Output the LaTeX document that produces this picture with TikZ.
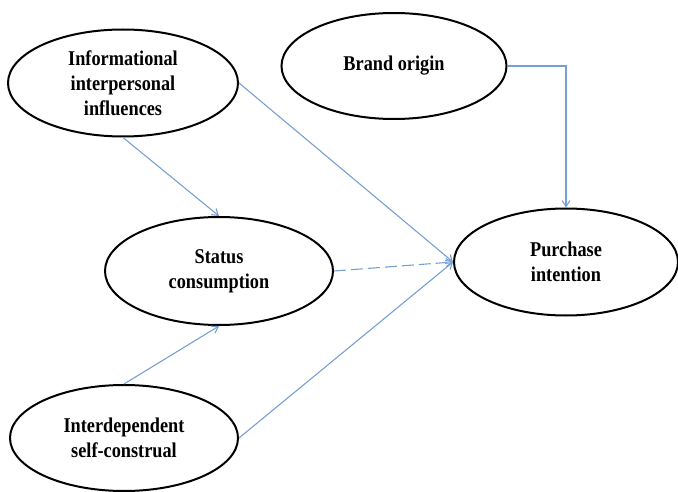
\documentclass[tikz,border=0pt]{standalone}
\usepackage{fontspec}
\setmainfont[FakeStretch=0.87]{Liberation Serif}
\usetikzlibrary{shapes.geometric,arrows.meta}
\definecolor{arrowblue}{RGB}{118,160,210}
\begin{document}
\begin{tikzpicture}[x=1pt,y=-1pt,
  construct/.style={ellipse, draw=black, line width=2pt, inner sep=0pt, align=center,
    font=\fontsize{21}{25}\selectfont\bfseries},
  link/.style={draw=arrowblue, line width=1.1pt, -{Straight Barb[length=6pt,width=8pt]}}]
\useasboundingbox (0,0) rectangle (678,492);
\node[construct, minimum width=230pt, minimum height=107pt] (info) at (123,83)
  {Informational\\interpersonal\\influences};
\node[construct, minimum width=225pt, minimum height=106pt] (brand) at (394,66)
  {Brand origin};
\node[construct, minimum width=224pt, minimum height=107pt] (purch) at (566,262)
  {Purchase\\intention};
\node[construct, minimum width=228pt, minimum height=108pt] (status) at (219,271)
  {Status\\consumption};
\node[construct, minimum width=228pt, minimum height=106pt] (inter) at (124,438)
  {Interdependent\\self-construal};
\draw[link] (info.south) -- (status.north);
\draw[link] (info.east) -- (purch.west);
\draw[link] (brand.east) -| (purch.north);
\draw[link, dash pattern=on 12pt off 5pt] (status.east) -- (purch.west);
\draw[link] (inter.north) -- (status.south);
\draw[link] (inter.east) -- (purch.west);
\end{tikzpicture}
\end{document}
